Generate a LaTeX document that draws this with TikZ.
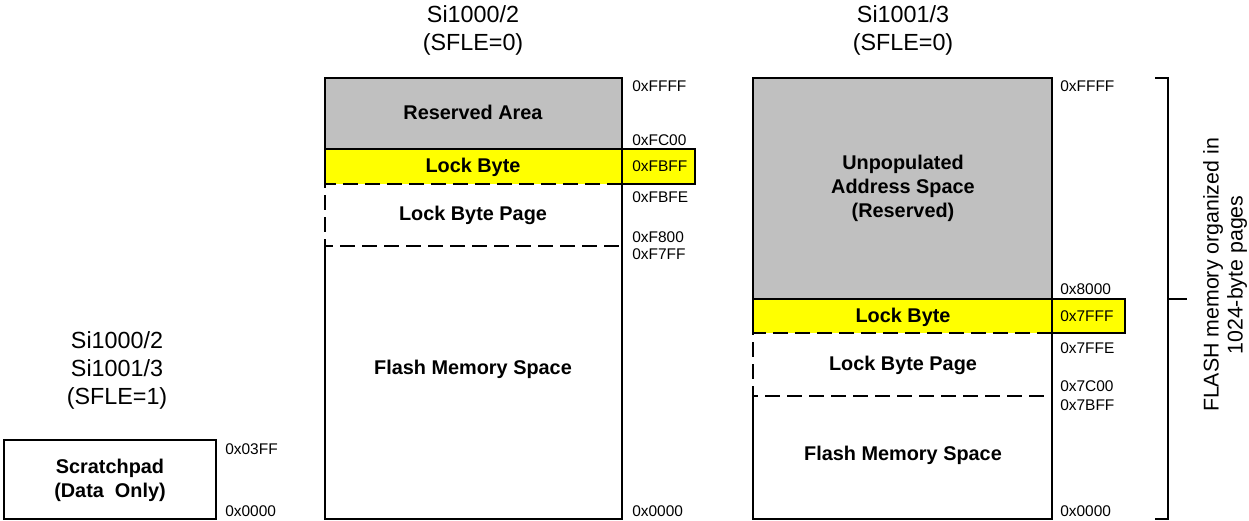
\documentclass[tikz,border=0pt]{standalone}
\usepackage{fontspec}
\setmainfont{Liberation Sans}
\usetikzlibrary{positioning}
\definecolor{resgray}{HTML}{C0C0C0}
\definecolor{lockyel}{HTML}{FFFF00}
\tikzset{
  addr/.style={anchor=west,inner sep=0.75pt,font=\fontsize{11.6}{13}\selectfont},
  region/.style={align=center,inner sep=0.75pt,font=\bfseries\fontsize{14.9}{18}\selectfont},
  title/.style={align=center,inner sep=0.75pt,font=\fontsize{17.5}{21}\selectfont},
  frame/.style={line width=1.1pt},
  pageline/.style={line width=1.7pt,dash pattern=on 11pt off 5.5pt}
}
\begin{document}
\begin{tikzpicture}[x=0.75pt,y=0.75pt,yscale=-1,xscale=1]
    \useasboundingbox (0,0) rectangle (1249,521);

    % Titles
    \node[title] (tsfle1) at (117,370) {Si1000/2\\Si1001/3\\(SFLE=1)};
    \node[title] (tsi1000) at (473,30) {Si1000/2\\(SFLE=0)};
    \node[title] (tsi1001) at (903,30) {Si1001/3\\(SFLE=0)};

    %Scratchpad
    \draw[frame] (4,440) rectangle (216,519);
    \node[region] (scratch) at (110,480) {Scratchpad\\(Data\ \ Only)};
    \node[addr] (sa03ff) at (224,449) {0x03FF};
    \node[addr] (sa0000) at (224,511) {0x0000};

    %Si1000/2 map
    \fill[resgray] (325,78) rectangle (622,149);
    \fill[lockyel] (325,149) rectangle (695,184);
    \draw[frame] (325,184) -- (325,78) -- (622,78) -- (622,519) -- (325,519) -- (325,246);
    \draw[frame] (325,149) -- (622,149);
    \draw[frame] (622,149) rectangle (695,184);
    \draw[pageline] (622,184) -- (325,184) -- (325,246) -- (622,246);
    % Text Node
    \node[region] (mres) at (473,112) {Reserved Area};
    \node[region] (mlock) at (473,167) {Lock Byte};
    \node[region] (mpage) at (473,215) {Lock Byte Page};
    \node[region] (mflash) at (473,369) {Flash Memory Space};
    % Addresses
    \node[addr] (maffff) at (631,86) {0xFFFF};
    \node[addr] (mafc00) at (631,140) {0xFC00};
    \node[addr] (mafbff) at (631,166) {0xFBFF};
    \node[addr] (mafbfe) at (631,197) {0xFBFE};
    \node[addr] (maf800) at (631,237) {0xF800};
    \node[addr] (maf7ff) at (631,254) {0xF7FF};
    \node[addr] (ma0000) at (631,511) {0x0000};

    %Si1001/3 map
    \fill[resgray] (753,78) rectangle (1052,299);
    \fill[lockyel] (753,299) rectangle (1125,333);
    \draw[frame] (753,333) -- (753,78) -- (1052,78) -- (1052,519) -- (753,519) -- (753,396);
    \draw[frame] (753,299) -- (1052,299);
    \draw[frame] (1052,299) rectangle (1125,333);
    \draw[pageline] (1052,333) -- (753,333) -- (753,396) -- (1052,396);
    % Text Node
    \node[region] (rres) at (903,188) {Unpopulated\\Address Space\\(Reserved)};
    \node[region] (rlock) at (903,317) {Lock Byte};
    \node[region] (rpage) at (903,365) {Lock Byte Page};
    \node[region] (rflash) at (903,455) {Flash Memory Space};
    % Addresses
    \node[addr] (raffff) at (1059,86) {0xFFFF};
    \node[addr] (ra8000) at (1059,289) {0x8000};
    \node[addr] (ra7fff) at (1059,316) {0x7FFF};
    \node[addr] (ra7ffe) at (1059,348) {0x7FFE};
    \node[addr] (ra7c00) at (1059,386) {0x7C00};
    \node[addr] (ra7bff) at (1059,405) {0x7BFF};
    \node[addr] (ra0000) at (1059,511) {0x0000};

    %Brace
    \draw[line width=0.8pt] (1155,78) -- (1168,78) -- (1168,519) -- (1155,519);
    \draw[line width=0.8pt] (1168,299) -- (1187,299);
    \node[title,rotate=90,font=\fontsize{16}{18}\selectfont] (pagenote) at (1225,275) {FLASH memory organized in\\1024-byte pages};
\end{tikzpicture}
\end{document}
